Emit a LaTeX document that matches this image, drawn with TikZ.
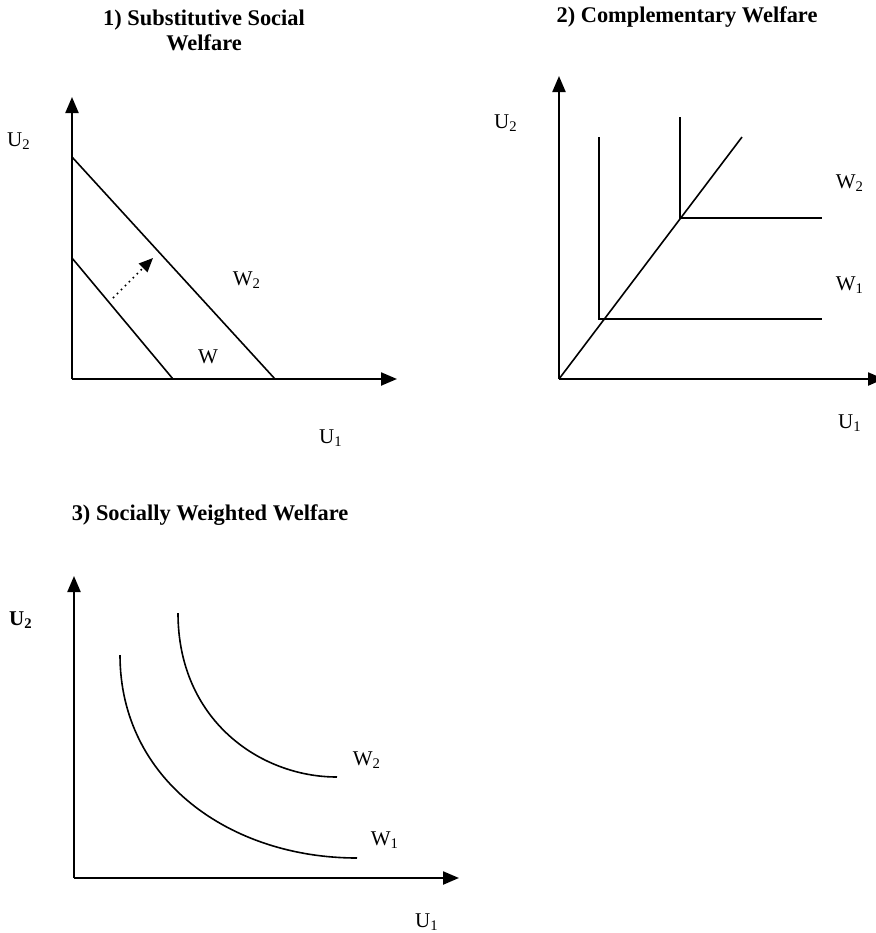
\documentclass[tikz,border=0pt]{standalone}
\usepackage{fontspec}
\setmainfont{Liberation Serif}
\usetikzlibrary{arrows.meta}
\begin{document}
\begin{tikzpicture}[x=0.5pt,y=-0.5pt,
  axis/.style={line width=1.1pt,-{Triangle[length=8pt,width=6.5pt]}},
  curve/.style={line width=0.8pt},
  lbl/.style={font=\fontsize{10.5}{12}\selectfont, inner sep=0pt},
  blbl/.style={font=\fontsize{10.5}{12}\selectfont\bfseries, inner sep=0pt},
  ttl/.style={font=\fontsize{11.2}{12.5}\selectfont\bfseries, align=center, inner sep=0pt}]
\useasboundingbox (0,0) rectangle (875,933);

% ---------- Panel 1 ----------
\node[ttl] (t1) at (204,30) {1) Substitutive Social\\Welfare};
\coordinate (o1) at (72,379);
\coordinate (y1) at (72,97);
\coordinate (x1) at (397,379);
\draw[axis] (o1) -- (y1);
\draw[axis] (o1) -- (x1);
\coordinate (w2a) at (72,157);
\coordinate (w2b) at (275,379);
\coordinate (wa) at (72,258);
\coordinate (wb) at (173,379);
\draw[curve] (w2a) -- (w2b);
\draw[curve] (wa) -- (wb);
\coordinate (da) at (113,298);
\coordinate (db) at (153,258);
\draw[curve, dotted, -{Triangle[length=7pt,width=6pt]}] (da) -- (db);
\node[lbl] (p1u2) at (19,141) {U\textsubscript{2}};
\node[lbl] (p1u1) at (331,438) {U\textsubscript{1}};
\node[lbl] (p1w2) at (247,280) {W\textsubscript{2}};
\node[lbl] (p1w) at (208,357) {W};

% ---------- Panel 2 ----------
\node[ttl] (t2) at (687,17) {2) Complementary Welfare};
\coordinate (o2) at (559,379);
\coordinate (y2) at (559,76);
\coordinate (x2) at (884,379);
\draw[axis] (o2) -- (y2);
\draw[axis] (o2) -- (x2);
\coordinate (diag) at (742,137);
\draw[curve] (o2) -- (diag);
\coordinate (k2top) at (680,117);
\coordinate (k2) at (680,218);
\coordinate (k2end) at (822,218);
\draw[curve] (k2top) -- (k2) -- (k2end);
\coordinate (k1top) at (599,137);
\coordinate (k1) at (599,319);
\coordinate (k1end) at (822,319);
\draw[curve] (k1top) -- (k1) -- (k1end);
\node[lbl] (p2u2) at (506,123) {U\textsubscript{2}};
\node[lbl] (p2u1) at (850,423) {U\textsubscript{1}};
\node[lbl] (p2w2) at (850,183) {W\textsubscript{2}};
\node[lbl] (p2w1) at (850,285) {W\textsubscript{1}};

% ---------- Panel 3 ----------
\node[ttl] (t3) at (210,515) {3) Socially Weighted Welfare};
\coordinate (o3) at (74,878);
\coordinate (y3) at (74,576);
\coordinate (x3) at (459,878);
\draw[axis] (o3) -- (y3);
\draw[axis] (o3) -- (x3);
\coordinate (c2a) at (178,613);
\coordinate (c2b) at (337,777);
\draw[curve] (c2a) .. controls (178,720) and (260,777) .. (c2b);
\coordinate (c1a) at (120,655);
\coordinate (c1b) at (357,858);
\draw[curve] (c1a) .. controls (120,780) and (230,858) .. (c1b);
\node[blbl] (p3u2) at (21,620) {U\textsubscript{2}};
\node[lbl] (p3u1) at (427,922) {U\textsubscript{1}};
\node[lbl] (p3w2) at (367,760) {W\textsubscript{2}};
\node[lbl] (p3w1) at (385,840) {W\textsubscript{1}};
\end{tikzpicture}
\end{document}
